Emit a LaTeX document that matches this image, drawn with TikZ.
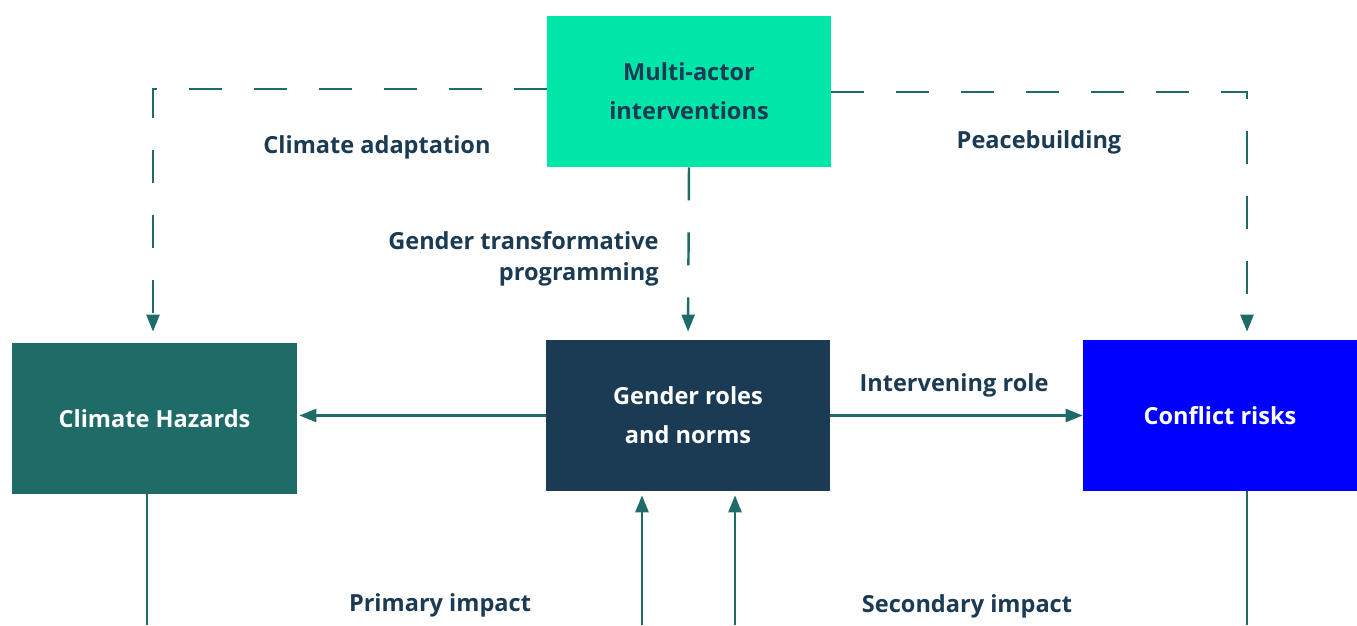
\documentclass[tikz,border=0pt]{standalone}
\usepackage{fontspec}
\setmainfont{Open Sans}
\usetikzlibrary{arrows.meta, positioning, calc}
\definecolor{gdnavy}{HTML}{1B3A53}
\definecolor{gdteal}{HTML}{1F6B68}
\definecolor{gdmint}{HTML}{00E6A8}
\definecolor{gdblue}{HTML}{0000FF}

\begin{document}
\begin{tikzpicture}[
    box/.style={rectangle, fill=#1, minimum width=56.8mm, minimum height=30.2mm, font=\fontsize{13.4}{22}\selectfont\bfseries, align=center, text=white, inner sep=0pt},
    lbl/.style={font=\fontsize{13.4}{18}\selectfont\bfseries, text=gdnavy, inner sep=0pt},
    link/.style={line width=1.4pt, color=gdteal},
    arrow/.style={link, -{Triangle[length=3.4mm, width=2.6mm]}},
    dasharrow/.style={arrow, dash pattern=on 6.6mm off 6.4mm}
]
\useasboundingbox (0,0) rectangle (27.14,12.5);

\node[box=gdmint, text=gdnavy] (mact) at (13.78,10.67) {Multi-actor\\interventions};
\node[box=gdteal, minimum width=57mm] (hazards) at (3.09,4.13) {Climate Hazards};
\node[box=gdnavy] (gender) at (13.76,4.19) {Gender roles\\and norms};
\node[box=gdblue, minimum width=54.8mm] (conflict) at (24.40,4.19) {Conflict risks};

% dashed intervention paths
\coordinate (lcorner) at (3.06,10.72);
\coordinate (rcorner) at (24.94,10.66);
\draw[dasharrow, shorten >=2.2mm] (mact.west |- lcorner) -- (lcorner) -- (lcorner |- hazards.north);
\draw[dasharrow, shorten >=1.6mm] (mact.east |- rcorner) -- (rcorner) -- (rcorner |- conflict.north);
\draw[dasharrow, shorten >=1.6mm] (mact.south) -- (gender.north);

% solid links
\draw[arrow, shorten >=0.4mm] (gender.west) -- (hazards.east |- gender.west);
\draw[arrow] (gender.east) -- (conflict.west |- gender.east);

% impacts from below
\coordinate (hzfoot) at (2.94,0);
\coordinate (gdfootA) at (12.84,0);
\coordinate (gdfootB) at (14.70,0);
\coordinate (cffoot) at (24.94,0);
\draw[link] (hzfoot |- hazards.south) -- (hzfoot);
\draw[arrow, shorten >=0.8mm] (gdfootA) -- (gdfootA |- gender.south);
\draw[arrow, shorten >=0.8mm] (gdfootB) -- (gdfootB |- gender.south);
\draw[link] (cffoot |- conflict.south) -- (cffoot);

% labels
\node[lbl] (adapt) at (7.54,9.56) {Climate adaptation};
\node[lbl] (peace) at (20.78,9.66) {Peacebuilding};
\node[lbl, align=right, anchor=east] (gtp) at (13.18,7.32) {Gender transformative\\programming};
\node[lbl] (interv) at (19.08,4.80) {Intervening role};
\node[lbl] (primary) at (8.80,0.40) {Primary impact};
\node[lbl] (secondary) at (19.34,0.38) {Secondary impact};

\end{tikzpicture}
\end{document}
